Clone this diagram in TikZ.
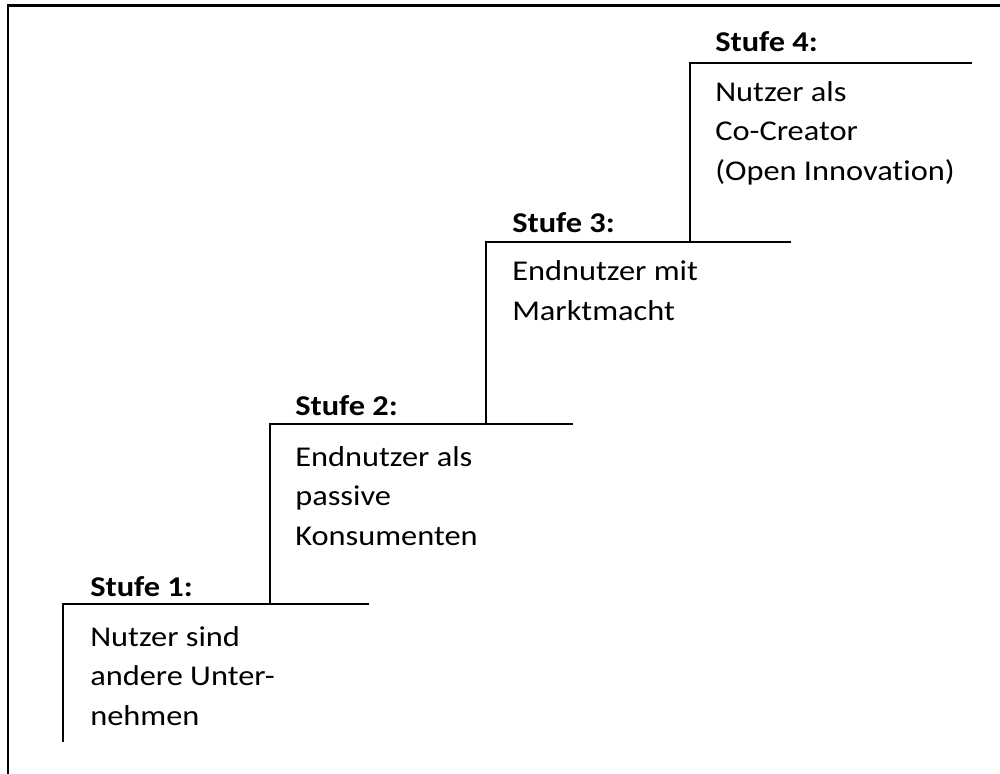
\documentclass[tikz,border=0pt]{standalone}
\usepackage{fontspec}
\setmainfont{Carlito}[FakeStretch=1.13,Ligatures={NoCommon}]
\begin{document}
\begin{tikzpicture}[x=0.75pt,y=-0.75pt,
  frameline/.style={line width=1.9pt,black},
  stairline/.style={line width=1.5pt,black},
  stagehead/.style={anchor=base west,inner sep=0pt,font=\fontsize{21.5}{29.6}\selectfont\bfseries},
  stagetext/.style={anchor=base west,inner sep=0pt,align=left,font=\fontsize{21.5}{29.6}\selectfont}]
\useasboundingbox (0,0) rectangle (1000,774);
% outer frame (top and left edges)
\coordinate (fbl) at (8,780);
\coordinate (ftl) at (8,5.5);
\coordinate (ftr) at (1006,5.5);
\draw[frameline] (fbl) -- (ftl) -- (ftr);
% corners of the staircase
\coordinate (a0) at (63,742);
\coordinate (a1) at (63,604);
\coordinate (a2) at (369,604);
\coordinate (b0) at (270,604);
\coordinate (b1) at (270,423.5);
\coordinate (b2) at (573,423.5);
\coordinate (c0) at (486,423.5);
\coordinate (c1) at (486,242);
\coordinate (c2) at (791,242);
\coordinate (d0) at (690,242);
\coordinate (d1) at (690,63);
\coordinate (d2) at (972,63);
\draw[stairline] (a0) -- (a1) -- (a2);
\draw[stairline] (b0) -- (b1) -- (b2);
\draw[stairline] (c0) -- (c1) -- (c2);
\draw[stairline] (d0) -- (d1) -- (d2);
% stage labels (multi-line texts are placed by the baseline of their last line)
\node[stagehead] (h1) at (90,596) {Stufe 1:};
\node[stagetext] (t1) at (90,725) {Nutzer sind\\andere Unter-\\nehmen};
\node[stagehead] (h2) at (295,415) {Stufe 2:};
\node[stagetext] (t2) at (295,545) {Endnutzer als\\passive\\Konsumenten};
\node[stagehead] (h3) at (512,232) {Stufe 3:};
\node[stagetext] (t3) at (512,320) {Endnutzer mit\\Marktmacht};
\node[stagehead] (h4) at (715,52) {Stufe 4:};
\node[stagetext] (t4) at (715,180) {Nutzer als\\Co-Creator\\(Open Innovation)};
\end{tikzpicture}
\end{document}
